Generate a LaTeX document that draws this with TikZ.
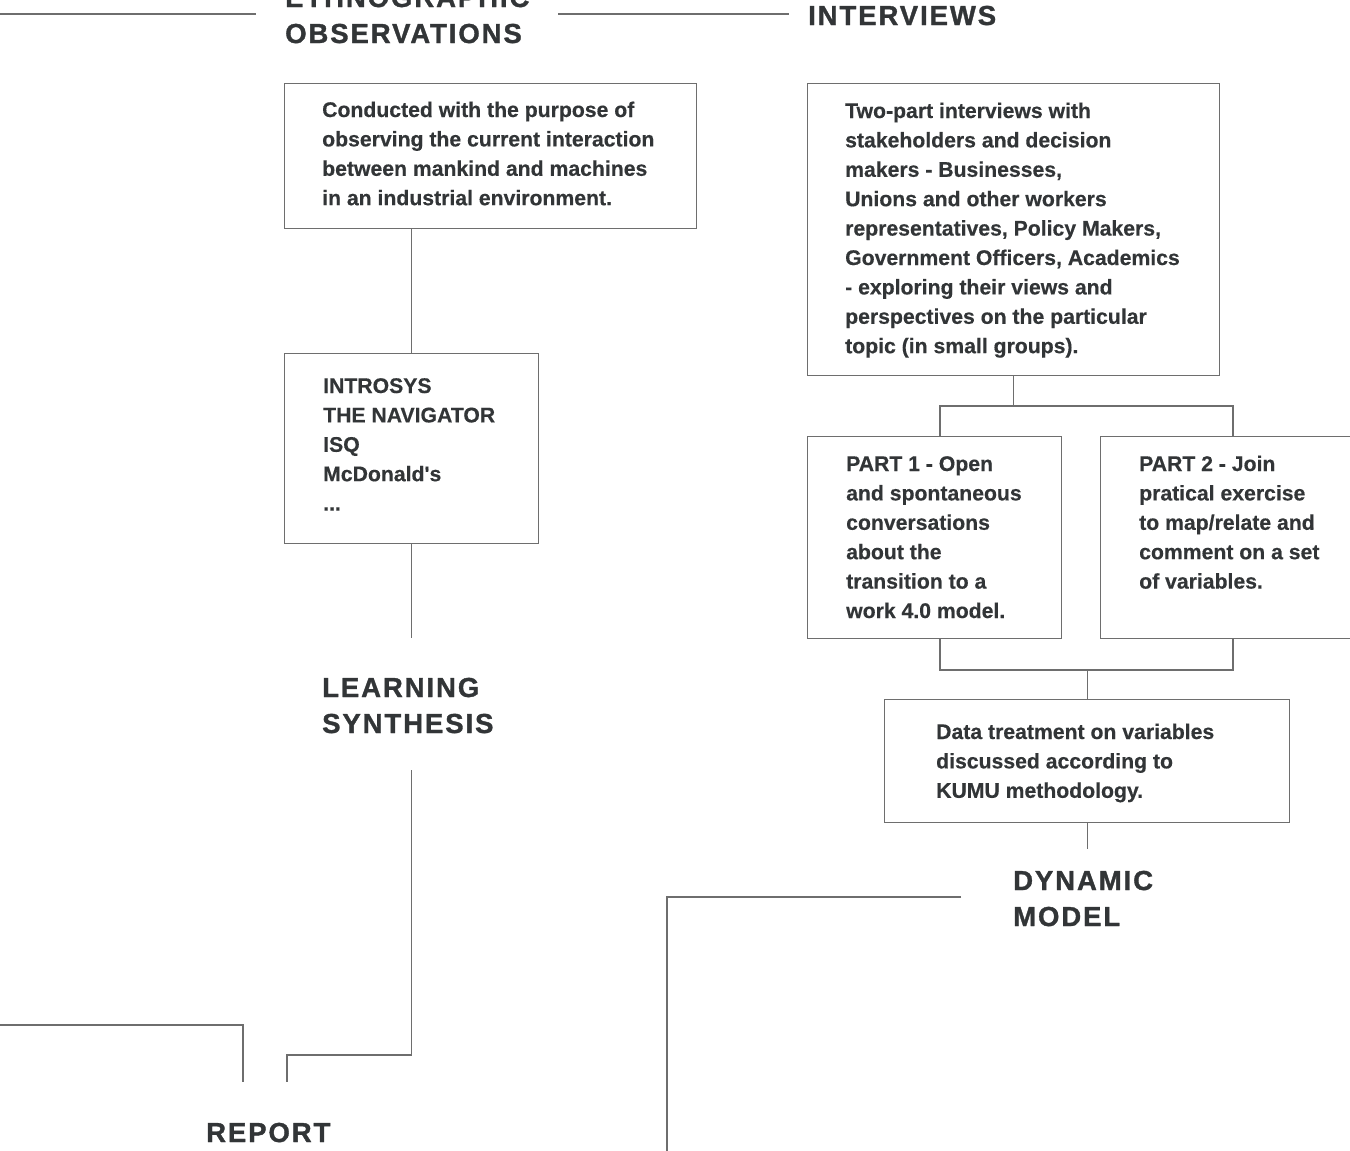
\documentclass[tikz,border=0pt]{standalone}
\usepackage{fontspec}
\setmainfont{Liberation Sans}[BoldFeatures={FakeBold=0.4}]
\newfontfamily\headfont[LetterSpace=7,BoldFont={Liberation Sans Bold},BoldFeatures={FakeBold=1.2}]{Liberation Sans}
\usetikzlibrary{calc}
\definecolor{txtc}{HTML}{323537}
\definecolor{lnc}{HTML}{6E6E6E}
\begin{document}
\begin{tikzpicture}[x=1pt,y=-1pt,
  box/.style={draw=lnc, line width=1.3pt, rectangle, inner sep=0pt, anchor=north west},
  body/.style={anchor=base west, align=left, inner sep=0pt, text=txtc, font=\bfseries\fontsize{21.2}{29.4}\selectfont},
  head/.style={anchor=base west, align=left, inner sep=0pt, text=txtc, font=\headfont\bfseries\fontsize{27.5}{36}\selectfont},
  conn/.style={draw=lnc, line width=1.3pt}]
\useasboundingbox[fill=white] (0,0) rectangle (1350,1151);

% headings (anchor at baseline of last line)
\node[head] (hEth) at (285,43) {ETHNOGRAPHIC\\OBSERVATIONS};
\node[head] (hInt) at (808,25) {INTERVIEWS};
\node[head] (hLearn) at (322,733) {LEARNING\\SYNTHESIS};
\node[head] (hDyn) at (1013,926) {DYNAMIC\\MODEL};
\node[head] (hRep) at (206,1142) {REPORT};

% boxes
\node[box, minimum width=412, minimum height=145] (eb) at (284,83) {};
\node[body] (ebt) at (322,205.2) {Conducted with the purpose of\\observing the current interaction\\between mankind and machines\\in an industrial environment.};

\node[box, minimum width=254, minimum height=190] (ib) at (284,353) {};
\node[body] (ibt) at (323,510.6) {INTROSYS\\THE NAVIGATOR\\ISQ\\McDonald\textquotesingle s\\...};

\node[box, minimum width=412, minimum height=292] (iv) at (807,83) {};
\node[body] (ivt) at (845,353.2) {Two-part interviews with\\stakeholders and decision\\makers - Businesses,\\Unions and other workers\\representatives, Policy Makers,\\Government Officers, Academics\\- exploring their views and\\perspectives on the particular\\topic (in small groups).};

\node[box, minimum width=254, minimum height=202] (p1) at (807,436) {};
\node[body] (p1t) at (846,618) {PART 1 - Open\\and spontaneous\\conversations\\about the\\transition to a\\work 4.0 model.};

\node[box, minimum width=270, minimum height=202] (p2) at (1100,436) {};
\node[body] (p2t) at (1139,588.6) {PART 2 - Join\\pratical exercise\\to map/relate and\\comment on a set\\of variables.};

\node[box, minimum width=405, minimum height=123] (dt) at (884,699) {};
\node[body] (dtt) at (936,797.8) {Data treatment on variables\\discussed according to\\KUMU methodology.};

% free ends
\coordinate (t0) at (0,14);
\coordinate (t1) at (256,14);
\coordinate (t2) at (558,14);
\coordinate (t3) at (789,14);
\coordinate (lA) at (ib.south |- 0,638);
\coordinate (lB) at (ib.south |- 0,770);
\coordinate (rA) at (287,1082);
\coordinate (r0) at (0,1025);
\coordinate (rB) at (243,1082);
\coordinate (ivj) at (iv.south |- 0,406);
\coordinate (pj) at (dt.north |- 0,670);
\coordinate (dA) at (dt.south |- 0,849);
\coordinate (dB) at (961,897);
\coordinate (dC) at (667,1151);

% connectors
\draw[conn] (t0) -- (t1);
\draw[conn] (t2) -- (t3);
\draw[conn] (ib.north |- eb.south) -- (ib.north);
\draw[conn] (ib.south) -- (lA);
\draw[conn] (lB) |- (rA |- 0,1055) -- (rA);
\draw[conn] (r0) -| (rB);
\draw[conn] (iv.south) -- (ivj);
\draw[conn] (940,436) |- (ivj) -| (1233,436);
\draw[conn] (940,638) |- (pj) -| (1233,638);
\draw[conn] (pj) -- (dt.north);
\draw[conn] (dt.south) -- (dA);
\draw[conn] (dB) -| (dC);
\end{tikzpicture}
\end{document}
